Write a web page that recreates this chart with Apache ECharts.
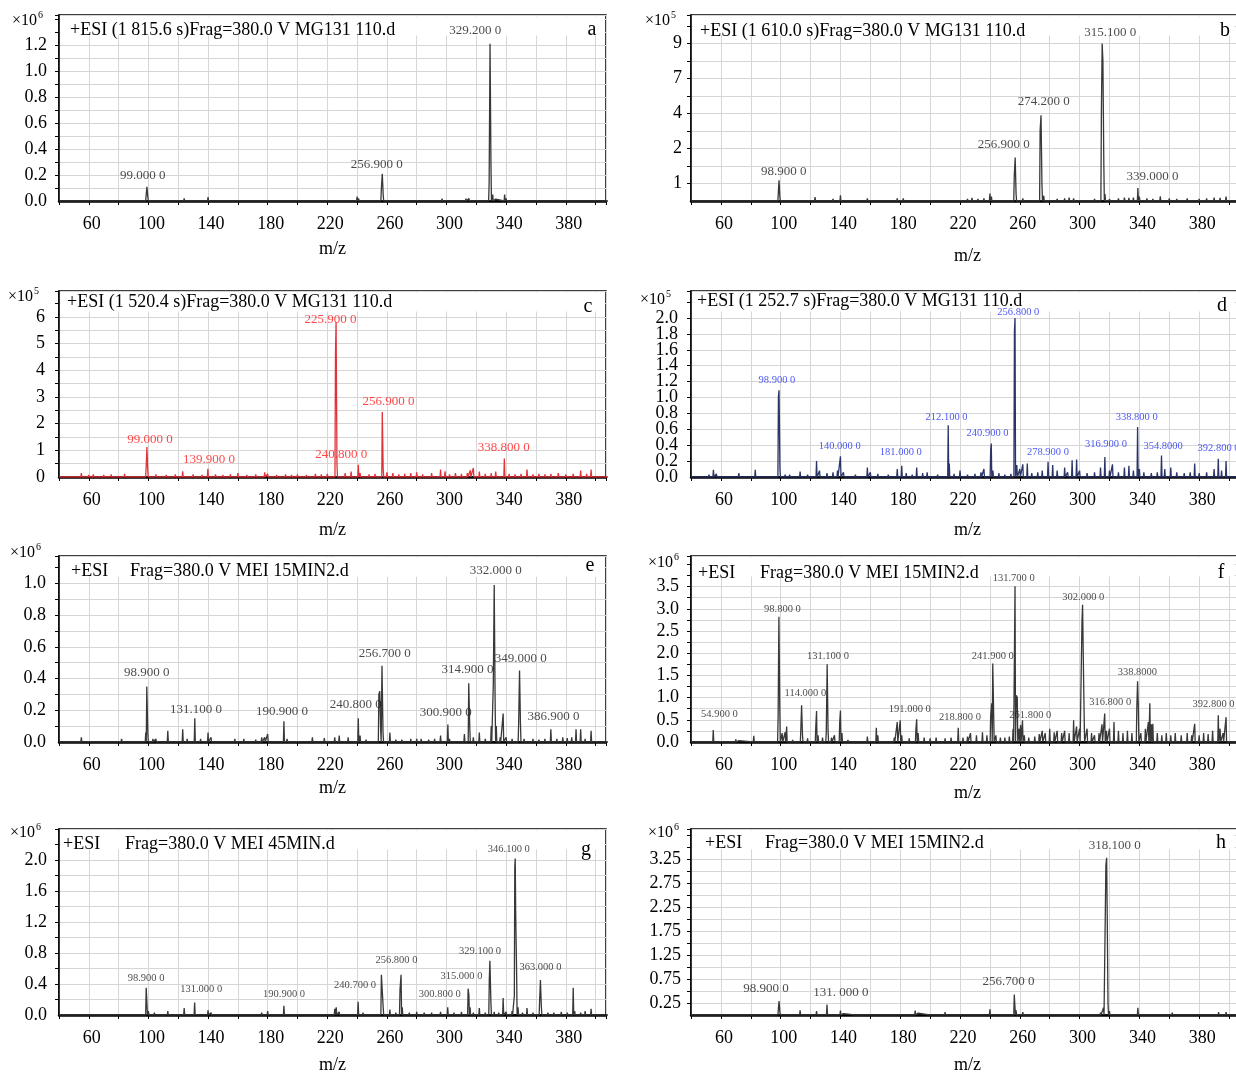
<!DOCTYPE html>
<html>
<head>
<meta charset="utf-8">
<title>ESI mass spectra a-h</title>
<script src="https://cdn.jsdelivr.net/npm/echarts@6/dist/echarts.min.js"></script>
<style>
  html, body { margin: 0; padding: 0; background: #fff; }
  #chart { width: 1236px; height: 1072px; }
</style>
</head>
<body>
<div id="chart"></div>
<script>
const FONT = '"Liberation Serif", "Times New Roman", serif';

// shared x tick labels (m/z)
const xTicks = ['60', '100', '140', '180', '220', '260', '300', '340', '380'];

// ---- a : intensity x10^6 ----
const peaksA = [[54, 0.01], [63, 0.008], [72, 0.006], [82, 0.01], [98.5, 0.05], [99.0, 0.11], [99.6, 0.03],
  [104, 0.01], [112, 0.008], [124, 0.02], [140, 0.03], [141, 0.015], [158, 0.01], [178, 0.012], [180, 0.01],
  [195, 0.008], [213, 0.01], [232, 0.012], [238, 0.015], [240, 0.035], [241, 0.02], [256.3, 0.1], [256.9, 0.21],
  [257.5, 0.05], [262, 0.015], [275, 0.012], [278, 0.01], [282, 0.01], [292, 0.012], [295, 0.015], [297, 0.018],
  [300, 0.012], [313, 0.018], [315, 0.02], [318, 0.01], [328.6, 0.14], [329.2, 1.21], [329.8, 0.3], [331, 0.05],
  [333, 0.015], [339, 0.05], [340, 0.02], [353, 0.015], [362, 0.01], [375, 0.015], [390, 0.012], [396, 0.015]];
const labelsA = [[319.3, 1.25, '329.200 0'], [253.2, 0.22, '256.900 0'], [96.2, 0.14, '99.000 0']];
const yTicksA = ['0.0', '0.2', '0.4', '0.6', '0.8', '1.0', '1.2'];

// ---- b : intensity x10^5 (axis printed 1,2,4,7,9 at equal steps) ----
const peaksB = [[55, 0.1], [70, 0.06], [82, 0.08], [98.5, 0.6], [98.9, 1.09], [99.4, 0.3], [110, 0.05], [123, 0.23],
  [126, 0.1], [135, 0.12], [140, 0.32], [158, 0.15], [165, 0.08], [178, 0.15], [182, 0.15], [190, 0.1], [197, 0.08],
  [210, 0.08], [218, 0.1], [225, 0.12], [228, 0.18], [232, 0.12], [236, 0.15], [240, 0.42], [241, 0.25], [250, 0.1],
  [256.3, 1.23], [256.9, 1.74], [257.5, 0.4], [262, 0.15], [266, 0.1], [273.6, 3.04], [274.2, 3.9], [274.8, 1.0],
  [276, 0.3], [280, 0.1], [285, 0.12], [290, 0.15], [293, 0.2], [296, 0.15], [300, 0.1], [305, 0.1], [310, 0.12],
  [314.6, 4.3], [315.1, 9.0], [315.6, 8.0], [316.2, 1.6], [317, 0.4], [320, 0.12], [326, 0.15], [330, 0.2],
  [333, 0.18], [336, 0.2], [339, 0.74], [340, 0.25], [345, 0.15], [349, 0.12], [354, 0.27], [360, 0.15],
  [365, 0.12], [372, 0.15], [380, 0.12], [385, 0.15], [390, 0.2], [394, 0.18], [398, 0.25]];
const labelsB = [[320.5, 9.17, '315.100 0'], [276, 4.39, '274.200 0'], [249.2, 1.9, '256.900 0'],
  [102, 1.13, '98.900 0'], [348.7, 0.97, '339.000 0']];
const yTicksB = ['1', '2', '4', '7', '9'];
const yStepsB = [[0, 0], [1, 1], [2, 3], [4, 5], [7, 7], [9, 9], [12, 12]]; // printed value -> grid step

// ---- c : intensity x10^5 ----
const peaksC = [[52, 0.05], [55, 0.15], [60, 0.08], [63, 0.1], [70, 0.08], [75, 0.1], [84, 0.12], [90, 0.06],
  [98.5, 0.4], [99.0, 1.12], [99.5, 0.3], [105, 0.1], [112, 0.08], [118, 0.1], [123, 0.21], [130, 0.1], [136, 0.08],
  [139.9, 0.31], [145, 0.1], [150, 0.08], [155, 0.1], [160, 0.15], [166, 0.08], [172, 0.1], [178, 0.18], [180, 0.12],
  [186, 0.08], [192, 0.1], [196, 0.08], [200, 0.1], [206, 0.08], [212, 0.12], [216, 0.1], [220, 0.12], [225.5, 4.6],
  [225.9, 5.8], [226.5, 0.5], [232, 0.15], [236, 0.2], [240.8, 0.46], [242, 0.15], [248, 0.1], [252, 0.12],
  [256.9, 2.44], [257.5, 0.3], [260, 0.18], [264, 0.15], [268, 0.1], [272, 0.12], [276, 0.15], [280, 0.18],
  [284, 0.1], [290, 0.15], [296, 0.28], [299, 0.21], [302, 0.1], [306, 0.15], [310, 0.12], [314, 0.15], [316, 0.25],
  [318, 0.34], [322, 0.2], [326, 0.12], [330, 0.15], [333, 0.2], [338.8, 0.69], [342, 0.12], [346, 0.1],
  [350, 0.12], [354, 0.28], [358, 0.1], [362, 0.12], [366, 0.1], [370, 0.12], [375, 0.15], [380, 0.1], [385, 0.12],
  [390, 0.24], [394, 0.12], [397, 0.28]];
const labelsC = [[222.2, 5.62, '225.900 0'], [261.1, 2.55, '256.900 0'], [101, 1.12, '99.000 0'],
  [140.7, 0.37, '139.900 0'], [229.3, 0.56, '240.800 0'], [338.4, 0.82, '338.800 0']];
const yTicksC = ['0', '1', '2', '3', '4', '5', '6'];

// ---- d : intensity x10^5 ----
const peaksD = [[52, 0.03], [55, 0.09], [57, 0.04], [65, 0.02], [72, 0.05], [78, 0.02], [83, 0.09], [90, 0.02],
  [98.5, 1.01], [98.9, 1.09], [99.5, 0.1], [103, 0.03], [106, 0.03], [113, 0.07], [118, 0.03], [124, 0.2],
  [126, 0.08], [131, 0.05], [135, 0.06], [138, 0.08], [140, 0.26], [142, 0.06], [150, 0.03], [158, 0.12],
  [160, 0.06], [165, 0.04], [172, 0.03], [178, 0.1], [181, 0.14], [184, 0.05], [188, 0.03], [191, 0.12],
  [195, 0.05], [198, 0.06], [205, 0.03], [212.1, 0.65], [212.8, 0.17], [216, 0.04], [220, 0.08], [225, 0.03],
  [230, 0.04], [234, 0.06], [236, 0.1], [240.5, 0.34], [240.9, 0.42], [242, 0.08], [246, 0.05], [250, 0.03],
  [254, 0.04], [256.4, 1.83], [256.8, 2.0], [258, 0.15], [260, 0.1], [262, 0.16], [265, 0.17], [268, 0.05],
  [272, 0.06], [275, 0.08], [278.9, 0.19], [282, 0.15], [285, 0.08], [290, 0.12], [292, 0.06], [295, 0.21],
  [298, 0.22], [300, 0.08], [305, 0.05], [310, 0.06], [314, 0.12], [316.9, 0.25], [320, 0.08], [322, 0.16],
  [326, 0.06], [330, 0.12], [333, 0.14], [336, 0.08], [338.8, 0.63], [340, 0.1], [343, 0.06], [348, 0.05],
  [352, 0.06], [354.8, 0.27], [357, 0.1], [361, 0.12], [365, 0.06], [370, 0.05], [374, 0.06], [377, 0.17],
  [380, 0.05], [385, 0.06], [390, 0.1], [392.8, 0.23], [395, 0.08], [398, 0.2]];
const labelsD = [[259, 1.99, '256.800 0'], [97.5, 1.13, '98.900 0'], [211, 0.67, '212.100 0'],
  [238.4, 0.465, '240.900 0'], [338.2, 0.67, '338.800 0'], [139.5, 0.31, '140.000 0'], [180.4, 0.23, '181.000 0'],
  [278.8, 0.23, '278.900 0'], [317.6, 0.33, '316.900 0'], [355.9, 0.31, '354.8000'], [393, 0.28, '392.800 0']];
const yTicksD = ['0.0', '0.2', '0.4', '0.6', '0.8', '1.0', '1.2', '1.4', '1.6', '1.8', '2.0'];

// ---- e : intensity x10^6 ----
const peaksE = [[55, 0.03], [62, 0.01], [70, 0.005], [82, 0.02], [86, 0.008], [98.2, 0.06], [98.9, 0.35],
  [99.6, 0.05], [103, 0.02], [105, 0.02], [113, 0.07], [118, 0.01], [123, 0.08], [126, 0.02], [131.1, 0.15],
  [135, 0.02], [140, 0.06], [142, 0.03], [150, 0.01], [158, 0.02], [164, 0.02], [172, 0.015], [176, 0.03],
  [178, 0.03], [180, 0.05], [186, 0.01], [190.9, 0.13], [193, 0.02], [200, 0.01], [210, 0.03], [218, 0.025],
  [225, 0.03], [228, 0.04], [234, 0.03], [240.8, 0.15], [242, 0.04], [246, 0.015], [250, 0.01], [254.6, 0.3],
  [255.2, 0.32], [255.8, 0.08], [256.7, 0.48], [257.4, 0.06], [262, 0.06], [266, 0.015], [270, 0.015], [276, 0.02],
  [280, 0.02], [283, 0.02], [288, 0.015], [292, 0.02], [296, 0.04], [300.9, 0.11], [302, 0.02], [306, 0.01],
  [312, 0.05], [314.9, 0.37], [315.6, 0.09], [318, 0.03], [322, 0.06], [326, 0.02], [330, 0.1], [331.4, 0.37],
  [332.0, 0.99], [332.6, 0.26], [333.4, 0.1], [336, 0.03], [338, 0.18], [340, 0.03], [344, 0.02], [348.4, 0.12],
  [349.0, 0.45], [349.6, 0.12], [352, 0.02], [358, 0.02], [362, 0.015], [366, 0.02], [370, 0.08], [374, 0.02],
  [378, 0.03], [381, 0.025], [384, 0.03], [386.9, 0.08], [390, 0.08], [393, 0.02], [397, 0.07]];
const labelsE = [[333.1, 1.03, '332.000 0'], [258.5, 0.51, '256.700 0'], [349.8, 0.48, '349.000 0'],
  [314.1, 0.41, '314.900 0'], [98.9, 0.39, '98.900 0'], [131.9, 0.155, '131.100 0'], [189.6, 0.145, '190.900 0'],
  [239.1, 0.19, '240.800 0'], [299.5, 0.135, '300.900 0'], [371.8, 0.11, '386.900 0']];
const yTicksE = ['0.0', '0.2', '0.4', '0.6', '0.8', '1.0'];

// ---- f : intensity x10^6 ----
const peaksF = [[50, 0.02], [54.9, 0.27], [56, 0.04], [60, 0.03], [70, 0.06], [72, 0.03], [82, 0.14], [90, 0.02],
  [98.3, 0.58], [98.8, 2.82], [99.4, 0.75], [101, 0.2], [103, 0.22], [104, 0.35], [108, 0.05], [113.5, 0.3],
  [114, 0.83], [114.6, 0.15], [118, 0.08], [123.5, 0.35], [124, 0.7], [125, 0.15], [128, 0.1], [130.5, 0.2],
  [131.1, 1.75], [131.7, 0.25], [134, 0.1], [136, 0.15], [139.5, 0.45], [140, 0.71], [141, 0.2], [145, 0.05],
  [150, 0.03], [158, 0.12], [164, 0.32], [165, 0.15], [170, 0.04], [176, 0.1], [178, 0.45], [180, 0.49], [181, 0.15],
  [186, 0.08], [190.5, 0.3], [191, 0.51], [192, 0.2], [196, 0.1], [200, 0.08], [204, 0.1], [210, 0.08], [214, 0.1],
  [218.8, 0.32], [222, 0.1], [225, 0.12], [227, 0.2], [231, 0.15], [235, 0.22], [238, 0.15], [240.5, 0.6],
  [241.2, 0.87], [241.9, 1.77], [242.5, 0.64], [244, 0.15], [247, 0.1], [250, 0.1], [253, 0.12], [255.5, 0.3],
  [256.3, 1.62], [256.8, 3.51], [257.6, 1.05], [258.3, 1.0], [259.5, 0.3], [260.5, 0.38], [261.8, 0.49], [263, 0.15],
  [266, 0.1], [270, 0.12], [273, 0.18], [275, 0.25], [277, 0.2], [280, 0.3], [283, 0.22], [285, 0.25], [288, 0.2],
  [290, 0.25], [293, 0.2], [296, 0.49], [298, 0.35], [300, 0.3], [301.6, 2.71], [302.0, 3.09], [302.4, 2.07],
  [303, 0.68], [305, 0.3], [308, 0.2], [310, 0.15], [313, 0.2], [315, 0.4], [316.8, 0.64], [318, 0.25], [320, 0.3],
  [323, 0.45], [326, 0.25], [329, 0.2], [332, 0.25], [335, 0.2], [338.3, 0.8], [338.8, 1.37], [339.3, 0.79],
  [341, 0.2], [344, 0.3], [346, 0.45], [347, 0.87], [348, 0.4], [349, 0.41], [352, 0.2], [355, 0.15], [358, 0.2],
  [361, 0.15], [364, 0.2], [368, 0.15], [372, 0.2], [375, 0.15], [377, 0.41], [380, 0.15], [383, 0.2], [386, 0.18],
  [389, 0.25], [392.8, 0.6], [394, 0.3], [396, 0.2], [398, 0.56]];
const labelsF = [[255.9, 3.55, '131.700 0'], [302.5, 3.12, '302.000 0'], [101.2, 2.84, '98.800 0'],
  [131.6, 1.79, '131.100 0'], [241.9, 1.79, '241.900 0'], [338.7, 1.43, '338.8000'], [116.5, 0.95, '114.000 0'],
  [186.4, 0.59, '191.000 0'], [219.9, 0.42, '218.800 0'], [267, 0.45, '261.800 0'], [320.5, 0.74, '316.800 0'],
  [389.6, 0.70, '392.800 0'], [59, 0.47, '54.900 0']];
const yTicksF = ['0.0', '0.5', '1.0', '1.5', '2.0', '2.5', '3.0', '3.5'];

// ---- g : intensity x10^6 ----
const peaksG = [[52, 0.02], [55, 0.02], [65, 0.01], [75, 0.01], [82, 0.015], [98.5, 0.35], [99, 0.35], [100, 0.05],
  [104, 0.03], [113, 0.05], [118, 0.02], [124, 0.09], [131, 0.16], [135, 0.02], [140, 0.06], [142, 0.03], [150, 0.02],
  [160, 0.015], [170, 0.02], [176, 0.03], [180, 0.05], [186, 0.02], [190.9, 0.12], [194, 0.02], [200, 0.02],
  [210, 0.02], [218, 0.02], [225, 0.08], [226, 0.1], [228, 0.04], [234, 0.02], [240.7, 0.17], [244, 0.03],
  [250, 0.02], [256.3, 0.52], [256.8, 0.54], [257.5, 0.1], [262, 0.07], [266, 0.03], [268.8, 0.33], [269.5, 0.52],
  [270.3, 0.1], [275, 0.03], [280, 0.04], [285, 0.03], [290, 0.03], [296, 0.04], [300.8, 0.1], [305, 0.03],
  [310, 0.04], [314.5, 0.34], [315.0, 0.26], [315.8, 0.1], [318, 0.03], [322, 0.09], [326, 0.03], [328.7, 0.45],
  [329.1, 0.7], [329.8, 0.15], [332, 0.04], [335, 0.03], [338, 0.22], [340, 0.04], [344, 0.05], [345.5, 0.25],
  [345.8, 1.91], [346.1, 2.02], [346.4, 1.33], [347, 0.58], [348, 0.1], [351, 0.03], [354, 0.09], [358, 0.03],
  [362.5, 0.2], [363, 0.45], [363.6, 0.12], [368, 0.03], [372, 0.03], [377, 0.04], [381, 0.03], [385, 0.35],
  [386, 0.05], [390, 0.03], [393, 0.05], [397, 0.08]];
const labelsG = [[341.8, 2.05, '346.100 0'], [322.5, 0.735, '329.100 0'], [363, 0.53, '363.000 0'],
  [266.4, 0.62, '256.800 0'], [310, 0.41, '315.000 0'], [238.6, 0.30, '240.700 0'], [295.5, 0.18, '300.800 0'],
  [98.4, 0.39, '98.900 0'], [135.4, 0.245, '131.000 0'], [191, 0.18, '190.900 0']];
const yTicksG = ['0.0', '0.4', '0.8', '1.2', '1.6', '2.0'];

// ---- h : intensity x10^6 ----
const peaksH = [[55, 0.03], [62, 0.01], [72, 0.01], [82, 0.02], [98.5, 0.15], [98.9, 0.29], [99.5, 0.05], [104, 0.03],
  [113, 0.1], [118, 0.02], [124, 0.08], [131, 0.22], [135, 0.02], [140, 0.09], [142, 0.03], [150, 0.02], [158, 0.02],
  [164, 0.03], [176, 0.03], [178, 0.04], [180, 0.04], [190, 0.09], [192, 0.04], [200, 0.02], [210, 0.06],
  [218, 0.03], [225, 0.03], [230, 0.03], [235, 0.04], [240, 0.12], [244, 0.04], [250, 0.02], [256.3, 0.43],
  [256.7, 0.47], [257.5, 0.1], [262, 0.06], [268, 0.02], [275, 0.02], [280, 0.03], [285, 0.03], [290, 0.02],
  [296, 0.03], [300, 0.04], [305, 0.03], [310, 0.03], [314, 0.05], [316, 0.15], [317.6, 3.13], [318.1, 3.29],
  [318.5, 2.04], [319, 0.26], [320, 0.08], [324, 0.04], [330, 0.03], [335, 0.04], [339, 0.15], [342, 0.04],
  [348, 0.03], [354, 0.03], [362, 0.05], [368, 0.02], [375, 0.03], [383, 0.02], [390, 0.04], [393, 0.06], [398, 0.06]];
const labelsH = [[323.6, 3.38, '318.100 0'], [252.4, 0.55, '256.700 0'], [90.2, 0.39, '98.900 0'],
  [140.3, 0.32, '131. 000 0']];
const yTicksH = ['0.25', '0.75', '1.25', '1.75', '2.25', '2.75', '3.25'];

const same = (v) => v;
function stepB(v) {
  for (let i = 1; i < yStepsB.length; i++) {
    const [v0, s0] = yStepsB[i - 1];
    const [v1, s1] = yStepsB[i];
    if (v <= v1) return s0 + (v - v0) * (s1 - s0) / (v1 - v0);
  }
  return v;
}

// layout of the eight panels (right column runs past the page edge, as in the source figure)
const L = { left: 59, width: 547, xMax: 407 };
const R = { left: 691, width: 553, xMax: 410 };
const panels = [
  { col: L, top: 15, peaks: peaksA, labels: labelsA, yTicks: yTicksA, yMax: 1.431, step: 0.1, toAxis: same,
    line: '#383838', text: '#1a1a1a', size: 13, yMargin: 12, nameGap: 39, exp: '6', expAt: [12, 21],
    head: ['+ESI (1 815.6 s)Frag=380.0 V MG131 110.d'], headAt: [70, 30], letter: 'a', letterAt: [592, 30] },
  { col: R, top: 15, peaks: peaksB, labels: labelsB, yTicks: yTicksB, yMax: 10.63, step: 1, toAxis: stepB,
    line: '#383838', text: '#1a1a1a', size: 13, yMargin: 9, nameGap: 46, exp: '5', expAt: [645, 21],
    head: ['+ESI (1 610.0 s)Frag=380.0 V MG131 110.d'], headAt: [700, 31], letter: 'b', letterAt: [1225, 31] },
  { col: L, top: 291, peaks: peaksC, labels: labelsC, yTicks: yTicksC, yMax: 6.97, step: 0.5, toAxis: same,
    line: '#e2333a', text: '#ff1a1a', size: 13, yMargin: 14, nameGap: 44, exp: '5', expAt: [8, 297],
    head: ['+ESI (1 520.4 s)Frag=380.0 V MG131 110.d'], headAt: [67, 302], letter: 'c', letterAt: [588, 307] },
  { col: R, top: 291, peaks: peaksD, labels: labelsD, yTicks: yTicksD, yMax: 2.34, step: 0.2, toAxis: same,
    line: '#2a3468', text: '#1f2ef0', size: 10.5, yMargin: 13, nameGap: 44, exp: '5', expAt: [640, 300],
    head: ['+ESI (1 252.7 s)Frag=380.0 V MG131 110.d'], headAt: [697, 301], letter: 'd', letterAt: [1222, 306] },
  { col: L, top: 556, peaks: peaksE, labels: labelsE, yTicks: yTicksE, yMax: 1.172, step: 0.1, toAxis: same,
    line: '#383838', text: '#1a1a1a', size: 13, yMargin: 13, nameGap: 37, exp: '6', expAt: [10, 553],
    head: ['+ESI', 'Frag=380.0 V MEI 15MIN2.d'], headAt: [71, 571, 130], letter: 'e', letterAt: [590, 566] },
  { col: R, top: 556, peaks: peaksF, labels: labelsF, yTicks: yTicksF, yMax: 4.19, step: 0.25, toAxis: same,
    line: '#383838', text: '#1a1a1a', size: 10.5, yMargin: 12, nameGap: 42, exp: '6', expAt: [648, 563],
    head: ['+ESI', 'Frag=380.0 V MEI 15MIN2.d'], headAt: [698, 573, 760], letter: 'f', letterAt: [1221, 573] },
  { col: L, top: 829, peaks: peaksG, labels: labelsG, yTicks: yTicksG, yMax: 2.4, step: 0.2, toAxis: same,
    line: '#383838', text: '#1a1a1a', size: 10.5, yMargin: 12, nameGap: 41, exp: '6', expAt: [10, 833],
    head: ['+ESI', 'Frag=380.0 V MEI 45MIN.d'], headAt: [63, 844, 125], letter: 'g', letterAt: [586, 850] },
  { col: R, top: 829, peaks: peaksH, labels: labelsH, yTicks: yTicksH, yMax: 3.89, step: 0.25, toAxis: same,
    line: '#383838', text: '#1a1a1a', size: 13, yMargin: 10, nameGap: 41, exp: '6', expAt: [648, 833],
    head: ['+ESI', 'Frag=380.0 V MEI 15MIN2.d'], headAt: [705, 843, 765], letter: 'h', letterAt: [1221, 843] }
];
const PLOT_H = 186;

// turn a peak list into a stick trace along the baseline
function stickTrace(peaks, toAxis) {
  const w = 0.35;
  const sorted = [...peaks].sort((p, q) => p[0] - q[0]);
  const pts = [[40, 0]];
  let prev = null;
  sorted.forEach(([m, h]) => {
    if (prev === null || m - w > prev + w) {
      if (prev !== null) pts.push([prev + w, 0]);
      pts.push([m - w, 0]);
    }
    pts.push([m, toAxis(h)]);
    prev = m;
  });
  pts.push([prev + w, 0], [412, 0]);
  return pts;
}

function textEl(x, y, text, size, align) {
  return {
    type: 'text', x, y, z: 10, silent: true,
    style: {
      text, fill: '#000', font: `${size}px ${FONT}`,
      align: align || 'left', textAlign: align || 'left',
      verticalAlign: 'middle', textVerticalAlign: 'middle'
    }
  };
}

const grids = [], xAxes = [], yAxes = [], extraY = [], series = [], graphics = [];
const yLabelStyle = { fontFamily: FONT, fontSize: 18, color: '#000' };
panels.forEach((p, i) => {
  grids.push({
    left: p.col.left, top: p.top, width: p.col.width, height: PLOT_H,
    show: true, borderColor: '#000', borderWidth: 1.5, containLabel: false,
    outerBoundsMode: 'none'
  });
  xAxes.push({
    type: 'value', gridIndex: i, min: 40, max: p.col.xMax, interval: 20,
    axisLine: { show: true, onZero: false, lineStyle: { color: '#000', width: 2.5 } },
    axisTick: { show: true, length: 4, lineStyle: { color: '#000', width: 1 } },
    axisLabel: {
      formatter: (v) => (xTicks.includes(String(v)) ? String(v) : ''),
      fontFamily: FONT, fontSize: 18, color: '#000', margin: 14, padding: [0, 0, 0, 6]
    },
    splitLine: { show: true, lineStyle: { color: '#d6d6d6', width: 1 } },
    name: 'm/z', nameLocation: 'middle', nameGap: p.nameGap,
    nameTextStyle: { fontFamily: FONT, fontSize: 18, color: '#000' }
  });
  const tickPos = p.yTicks.map((t) => [p.toAxis(parseFloat(t)), t]);
  const lookup = (v) => {
    const hit = tickPos.find(([pos]) => Math.abs(pos - v) < 1e-6);
    return hit ? hit[1] : '';
  };
  // main axis: every printed label except the one at the baseline
  yAxes.push({
    type: 'value', gridIndex: i, position: 'left', min: 0, max: p.yMax, interval: p.step,
    axisLine: { show: true, lineStyle: { color: '#000', width: 1.5 } },
    axisTick: { show: true, length: 4, lineStyle: { color: '#000', width: 1 } },
    axisLabel: Object.assign({ formatter: (v) => (v === 0 ? '' : lookup(v)), showMinLabel: false, margin: p.yMargin }, yLabelStyle),
    splitLine: { show: true, lineStyle: { color: '#d6d6d6', width: 1 } }
  });
  // companion axis that only prints the baseline label (so it is not dropped for overlap)
  if (lookup(0) !== '') {
    extraY.push({
      type: 'value', gridIndex: i, position: 'left', offset: 0, min: 0, max: p.yMax, interval: p.step,
      axisLine: { show: false }, axisTick: { show: false }, splitLine: { show: false },
      axisLabel: Object.assign({ formatter: (v) => (v === 0 ? lookup(0) : ''), showMinLabel: true, margin: p.yMargin }, yLabelStyle)
    });
  }
  series.push({
    type: 'line', xAxisIndex: i, yAxisIndex: i, data: stickTrace(p.peaks, p.toAxis),
    symbol: 'none', showSymbol: false, clip: true, z: 3,
    lineStyle: { color: p.line, width: 1.3 }
  });
  series.push({
    type: 'scatter', xAxisIndex: i, yAxisIndex: i, symbolSize: 0.1, z: 4, silent: true,
    itemStyle: { color: 'rgba(0,0,0,0)' },
    data: p.labels.map(([m, y, t]) => ({ name: t, value: [m, p.toAxis(y)] })),
    label: {
      show: true, position: 'top', distance: 1, formatter: (d) => d.name,
      fontFamily: FONT, fontSize: p.size, color: p.text
    }
  });

  // white band under the heading
  graphics.push({
    type: 'rect', z: 1, silent: true,
    shape: { x: p.col.left + 1.5, y: p.top + 1.5, width: Math.min(p.col.width, 1236 - p.col.left) - 3, height: 19 },
    style: { fill: '#fff' }
  });
  graphics.push(textEl(p.headAt[0], p.headAt[1], p.head[0], 18));
  if (p.head.length > 1) graphics.push(textEl(p.headAt[2], p.headAt[1], p.head[1], 18));
  graphics.push(textEl(p.letterAt[0], p.letterAt[1], p.letter, 20, 'center'));
  graphics.push(textEl(p.expAt[0], p.expAt[1], '×10', 16));
  graphics.push(textEl(p.expAt[0] + 26, p.expAt[1] - 6, p.exp, 10));
});

const chart = echarts.init(document.getElementById('chart'));
chart.setOption({
  animation: false,
  backgroundColor: '#fff',
  grid: grids,
  xAxis: xAxes,
  yAxis: yAxes.concat(extraY),
  series,
  graphic: { elements: graphics }
});
</script>
</body>
</html>
